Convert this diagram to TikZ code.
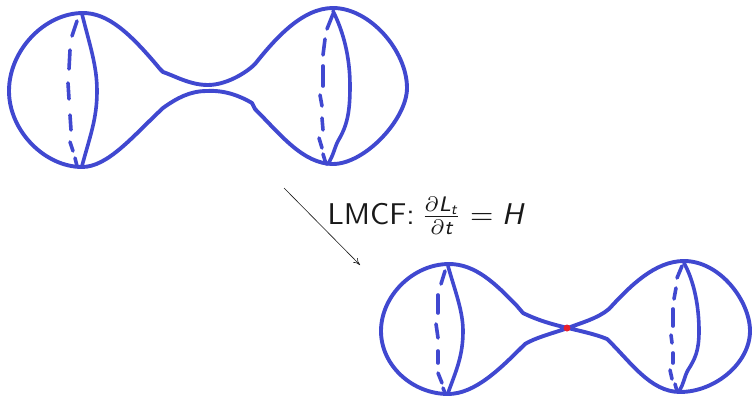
\documentclass[tikz,border=0pt]{standalone}
\usepackage{amsmath}
\usepackage{tikz}
\usetikzlibrary{arrows.meta,positioning}
\DeclareMathAlphabet{\mathsfsl}{TU}{lmss}{m}{sl}
\definecolor{surface}{HTML}{4048D0}
\definecolor{singular}{HTML}{E8202C}
\tikzset{
  outline/.style={draw=surface, line width=3.9pt, line join=round, line cap=round},
  meridian/.style={outline, line width=3.6pt},
  backdash/.style={outline, line width=3.6pt},
  flowarr/.style={-{To[length=2.4mm,width=2.2mm]}, line width=0.6pt, draw=black!90},
  dot/.style={circle, fill=singular, inner sep=0pt, minimum size=7pt},
  flowlabel/.style={font=\sffamily, scale=3, inner sep=0pt, text=black!90}
}
\begin{document}
\begin{tikzpicture}[x=1pt,y=-1pt]
    \useasboundingbox (0,0) rectangle (752,396);
    % top surface
    \draw[outline] (160,69) .. controls (130,33) and (108,13) .. (83,13) .. controls (45,13) and (9,50) .. (9,91)
      .. controls (9,131) and (45,167) .. (82,167) .. controls (108,167) and (133,136) .. (163,108)
      .. controls (177,98) and (190,91) .. (207,91) .. controls (225,90) and (240,96) .. (252,103) -- (255,109)
      .. controls (280,134) and (303,164) .. (333,164) .. controls (365,164) and (407,119) .. (407,88)
      .. controls (407,51) and (370,8) .. (333,8) .. controls (302,8) and (275,39) .. (255,64)
      .. controls (245,74) and (225,85) .. (208,85) .. controls (190,85) and (175,76) .. (163,72) -- cycle;
    \draw[meridian] (82,14) .. controls (90,46) and (97,66) .. (97,91) .. controls (97,119) and (90,136) .. (82,166);
    \draw[meridian] (333,11) .. controls (343,31) and (350,56) .. (350,86) .. controls (350,113) and (347,126) .. (338,141) .. controls (334,149) and (334,154) .. (328,164);
    \foreach \xa/\ya/\xb/\yb in {77/21/72/36, 70/50/69/69, 68/83/69/99, 70/115/71/130, 70/142/73/151, 75/158/77/166,
      333/14/327/29, 325/39/323/55, 323/66/323/86, 320/95/322/106, 322/118/323/130, 319/138/322/148, 323/154/326/164}
      \draw[backdash] (\xa,\ya) -- (\xb,\yb);
    % flow
    \coordinate (flowstart) at (284,188);
    \coordinate (flowend) at (360,265);
    \draw[flowarr] (flowstart) -- (flowend);
    \node[flowlabel, anchor=west] (lmcf) at (327,216) {LMCF:\hspace{-1.2pt} $\frac{\partial \mathsfsl{L}_{\mathsfsl{t}}}{\partial \mathsfsl{t}} = \mathsfsl{H}$};
    % bottom surface
    \draw[outline] (568,328) .. controls (550,324) and (535,319) .. (523,313) -- (517,306)
      .. controls (495,283) and (475,264) .. (449,264) .. controls (413,264) and (381,296) .. (381,331)
      .. controls (381,366) and (413,394) .. (448,394) .. controls (475,394) and (500,369) .. (525,344)
      .. controls (535,338) and (550,334) .. (568,328);
    \draw[outline] (568,328) .. controls (580,323) and (597,319) .. (609,309) .. controls (630,286) and (655,261) .. (684,261)
      .. controls (720,261) and (750,301) .. (750,331) .. controls (750,363) and (715,392) .. (680,392)
      .. controls (650,392) and (630,361) .. (607,339) .. controls (595,334) and (580,331) .. (568,328);
    \draw[meridian] (448,266) .. controls (455,291) and (463,311) .. (463,331) .. controls (463,356) and (456,371) .. (448,393);
    \draw[meridian] (684,263) .. controls (694,281) and (699,306) .. (699,331) .. controls (699,351) and (695,359) .. (688,370) .. controls (684,377) and (684,384) .. (679,391);
    \foreach \xa/\ya/\xb/\yb in {445/271/441/284, 438/295/438/313, 436/324/438/338, 438/351/438/363, 438/373/442/383, 443/388/445/393,
      682/266/677/278, 676/288/674/299, 673/309/673/326, 671/335/672/343, 673/353/673/363, 670/370/672/379, 675/384/677/391}
      \draw[backdash] (\xa,\ya) -- (\xb,\yb);
    \node[dot] (pinch) at (567,328) {};
\end{tikzpicture}
\end{document}
